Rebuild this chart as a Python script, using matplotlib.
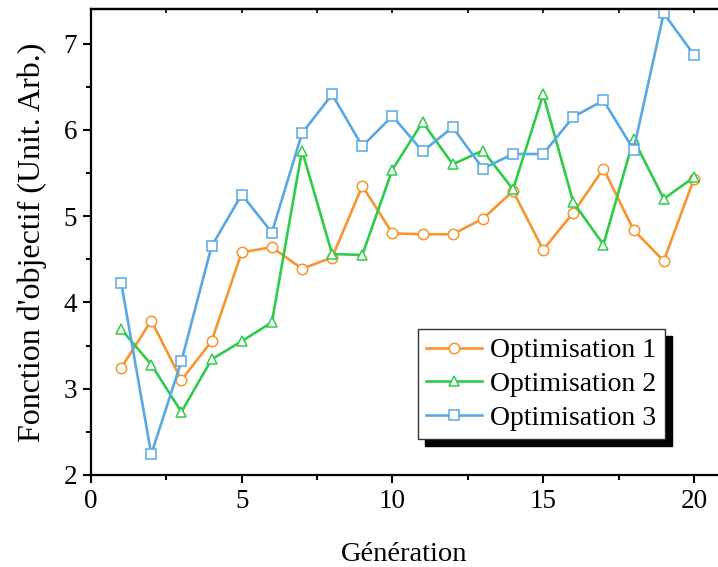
import matplotlib
matplotlib.use("Agg")
import matplotlib.pyplot as plt
from matplotlib.ticker import MultipleLocator, NullFormatter

# ── Data ─────────────────────────────────────────────────────────────────────
generation = list(range(1, 21))
opt1 = [3.24, 3.79, 3.10, 3.55, 4.58, 4.64, 4.39, 4.52, 5.35, 4.80,
        4.79, 4.79, 4.97, 5.29, 4.61, 5.04, 5.55, 4.84, 4.48, 5.43]
opt2 = [3.69, 3.28, 2.73, 3.34, 3.55, 3.77, 5.76, 4.56, 4.55, 5.54,
        6.09, 5.60, 5.76, 5.31, 6.41, 5.16, 4.67, 5.89, 5.20, 5.45]
opt3 = [4.23, 2.24, 3.32, 4.65, 5.25, 4.81, 5.96, 6.41, 5.81, 6.16,
        5.75, 6.03, 5.55, 5.72, 5.72, 6.15, 6.34, 5.77, 7.35, 6.87]
labels = ["Optimisation 1", "Optimisation 2", "Optimisation 3"]

COLORS = ["#f7952f", "#2fcc4a", "#58a8e6"]
MARKERS = ["o", "^", "s"]

plt.rcParams["font.family"] = ["Liberation Serif", "DejaVu Serif"]

fig = plt.figure(figsize=(7.18, 5.67), dpi=100)
ax = fig.add_axes([91 / 718, 1 - 475 / 567, 1 - 91 / 718, (475 - 9) / 567])

for ys, lab, c, m in zip([opt1, opt2, opt3], labels, COLORS, MARKERS):
    ax.plot(generation, ys, color=c, linewidth=1.9, marker=m, markersize=7.5,
            markerfacecolor="white", markeredgecolor=c, markeredgewidth=1.1,
            label=lab)

ax.set_xlim(0, 20.8)
ax.set_ylim(2, 7.4)
ax.xaxis.set_major_locator(MultipleLocator(5))
ax.xaxis.set_minor_locator(MultipleLocator(2.5))
ax.yaxis.set_major_locator(MultipleLocator(1))
ax.yaxis.set_minor_locator(MultipleLocator(0.5))

ax.spines["right"].set_visible(False)
for s in ["left", "bottom", "top"]:
    ax.spines[s].set_linewidth(1.6)

ax.tick_params(axis="both", which="major", direction="out", length=6,
               width=1.5, labelsize=19.5, pad=4)
ax.tick_params(axis="both", which="minor", direction="out", length=3.5, width=1.5)

# short inward ticks along the top spine
top = ax.secondary_xaxis("top")
top.xaxis.set_major_locator(MultipleLocator(5))
top.xaxis.set_minor_locator(MultipleLocator(2.5))
top.xaxis.set_major_formatter(NullFormatter())
top.tick_params(which="both", direction="in", length=3, width=1.2)
top.spines["top"].set_linewidth(1.6)

ax.set_xlabel("Génération", fontsize=20.5, labelpad=20)
ax.set_ylabel("Fonction d'objectif (Unit. Arb.)", fontsize=23, labelpad=12)

leg = ax.legend(loc="lower right", bbox_to_anchor=(0.915, 0.077), fontsize=20,
                fancybox=False, edgecolor="#333333", framealpha=1,
                handlelength=2.0, handletextpad=0.3, borderpad=0.3,
                labelspacing=0.3, borderaxespad=0,
                shadow={"color": "black", "alpha": 1, "ox": 5, "oy": -5})
leg.get_frame().set_linewidth(1.0)

fig.savefig("out.png", dpi=100)
